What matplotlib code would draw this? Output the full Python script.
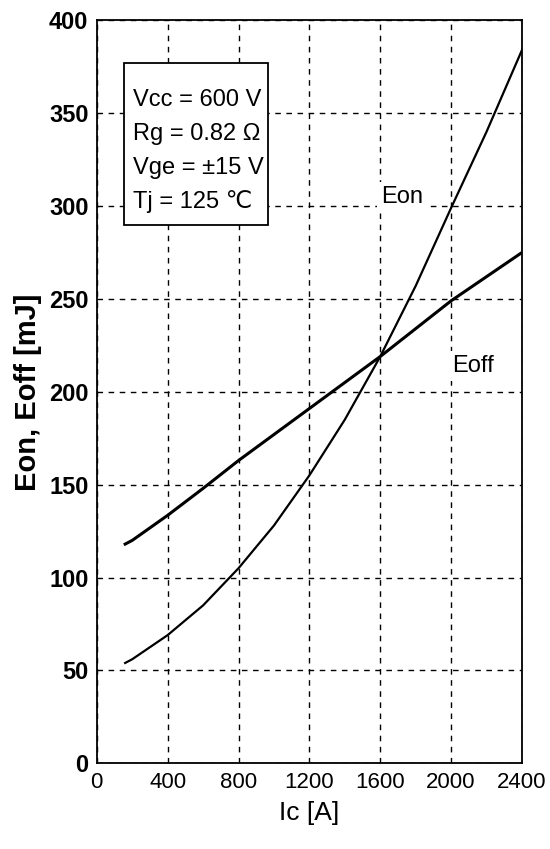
import numpy as np
import matplotlib.pyplot as plt

plt.rcParams['font.family'] = ['Liberation Sans', 'DejaVu Sans']

ic = [160, 200, 400, 600, 800, 1000, 1200, 1400, 1600, 1800, 2000, 2200, 2400]
eon = [54, 56, 69, 85, 105, 128, 155, 185, 219, 257, 299, 340, 384]
eoff = [118, 120, 133.5, 148, 163, 177, 191, 205, 219, 234, 249, 262, 275]
cond = ['Vcc = 600 V', 'Rg = 0.82 Ω', 'Vge = ±15 V', 'Tj = 125 ℃']

fig = plt.figure(figsize=(5.5, 8.49), dpi=100)
ax = fig.add_axes([0.176, 0.101, 0.773, 0.875])

ax.plot(ic, eon, color='black', lw=1.6)
ax.plot(ic, eoff, color='black', lw=2.2)

ax.set_xlim(0, 2400)
ax.set_ylim(0, 400)
ax.set_xticks(np.arange(0, 2401, 400))
ax.set_yticks(np.arange(0, 401, 50))
ax.grid(True, color='black', linestyle=(0, (4, 4)), lw=1)
ax.tick_params(length=0, pad=6)
for lab in ax.get_xticklabels():
    lab.set_fontsize(16)
for lab in ax.get_yticklabels():
    lab.set_fontsize(17)
    lab.set_fontweight('bold')
for s in ax.spines.values():
    s.set_linewidth(1.3)

ax.set_xlabel('Ic [A]', fontsize=19, labelpad=6)
ax.set_ylabel('Eon, Eoff [mJ]', fontsize=21, fontweight='bold', labelpad=5)

ax.text(1723, 305, 'Eon', fontsize=17, ha='center', va='center',
        bbox=dict(facecolor='white', edgecolor='none', pad=3))
ax.text(2124, 214, 'Eoff', fontsize=17, ha='center', va='center',
        bbox=dict(facecolor='white', edgecolor='none', pad=3))

# conditions box
ax.add_patch(plt.Rectangle((152, 290), 814, 87, facecolor='white',
                           edgecolor='black', lw=1.3, zorder=3))
for i, s in enumerate(cond):
    ax.text(205, 354 - i * 18.3, s, fontsize=17, ha='left', va='baseline',
            zorder=4)

fig.savefig('out.png', dpi=100)
